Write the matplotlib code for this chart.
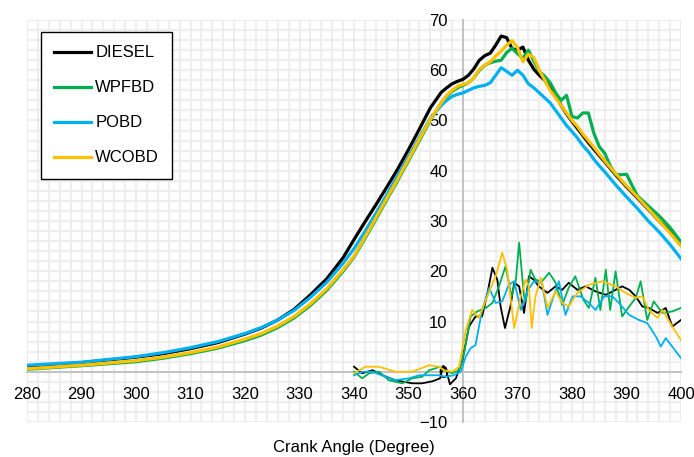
import matplotlib
matplotlib.use("Agg")
import matplotlib.pyplot as plt
import numpy as np
from matplotlib.ticker import MultipleLocator

plt.rcParams['font.family'] = ['Liberation Sans', 'DejaVu Sans']

names = ["DIESEL", "WPFBD", "POBD", "WCOBD"]
colors = ["#000000", "#00b050", "#00b0f0", "#ffc000"]

# cylinder pressure (bar) vs crank angle
p_angle = [280, 290, 300, 305, 310, 315, 320, 323, 326, 329, 332, 335, 338, 340, 342, 344,
           346, 348, 350, 352, 354, 356, 357, 358, 359, 360, 361, 362, 363, 364, 365, 366,
           367, 368, 369, 370, 371, 372, 373, 374, 375, 376, 377, 378, 379, 380, 381, 382,
           383, 384, 385, 386, 387, 388, 389, 390, 392, 394, 396, 398, 400]
p_diesel = [1.0, 1.8, 2.9, 3.6, 4.6, 5.8, 7.5, 8.7, 10.3, 12.4, 15.3, 18.5, 22.7, 26.3, 29.8, 33.2,
            36.7, 40.3, 44.2, 48.3, 52.5, 55.6, 56.5, 57.3, 57.8, 58.2, 59.0, 60.3, 62.0, 62.9, 63.4, 65.0,
            66.8, 66.5, 64.3, 64.0, 64.6, 62.0, 60.2, 59.0, 58.0, 56.5, 55.0, 53.0, 51.3, 49.8, 48.4, 47.0,
            45.6, 44.3, 43.0, 41.8, 40.5, 39.2, 38.0, 36.8, 34.6, 32.3, 30.0, 27.8, 25.3]
p_wpfbd = [0.5, 1.2, 2.0, 2.7, 3.6, 4.7, 6.2, 7.3, 8.8, 10.7, 13.2, 16.2, 20.0, 22.8, 26.5, 30.3,
           34.2, 38.0, 42.0, 46.0, 50.0, 53.5, 54.8, 55.8, 56.5, 57.0, 57.5, 58.5, 60.0, 61.0, 61.5, 61.8,
           62.0, 63.5, 64.4, 63.3, 62.4, 64.0, 61.8, 59.8, 58.8, 57.5, 55.5, 54.0, 55.0, 50.8, 50.5, 51.5,
           51.5, 47.5, 44.8, 43.5, 41.0, 39.3, 39.2, 39.3, 35.0, 33.0, 31.0, 28.7, 25.8]
p_pobd = [1.3, 1.9, 3.0, 3.8, 4.8, 6.0, 7.6, 8.8, 10.3, 12.2, 14.8, 17.8, 21.6, 24.5, 27.9, 31.5,
          35.2, 39.0, 42.8, 46.6, 50.4, 53.0, 54.0, 54.8, 55.2, 55.5, 56.0, 56.5, 56.8, 57.0, 57.5, 59.0,
          60.5, 59.8, 59.0, 60.0, 59.0, 57.3, 56.5, 55.5, 54.5, 53.5, 52.0, 50.5, 49.0, 47.8, 46.5, 45.0,
          43.8, 42.3, 41.0, 39.8, 38.5, 37.2, 36.0, 34.8, 32.5, 30.0, 27.8, 25.3, 22.5]
p_wcobd = [0.6, 1.3, 2.2, 2.9, 3.8, 4.9, 6.5, 7.6, 9.1, 11.0, 13.5, 16.5, 20.3, 23.0, 26.8, 30.6,
           34.5, 38.3, 42.3, 46.3, 50.2, 53.5, 55.0, 56.0, 56.8, 57.2, 57.5, 58.5, 60.2, 61.0, 61.7, 62.8,
           63.8, 65.0, 65.9, 64.5, 61.7, 63.2, 62.5, 60.0, 58.0, 56.0, 54.5, 53.0, 51.5, 50.0, 48.8, 47.3,
           46.0, 44.7, 43.3, 42.0, 40.7, 39.5, 38.2, 37.0, 34.8, 32.4, 30.0, 27.6, 25.0]

# heat release rate (J/deg) vs crank angle
h_diesel_x = [340, 341.5, 343.4, 345.2, 347.6, 350.7, 352.5, 354.4, 355.8, 356.4, 357.0, 357.6,
              358.7, 359.9, 361.1, 362.3, 363.5, 364.5, 365.4, 366.3, 366.9, 367.7, 368.7, 369.4,
              370.3, 371.2, 372.1, 373.0, 373.9, 375.5, 377.0, 378.2, 379.4, 381.0, 382.5, 384.3,
              386.2, 388.0, 389.2, 390.5, 391.7, 392.9, 394.1, 395.7, 397.2, 398.4, 400]
h_diesel = [1.0, -0.3, 0.3, -0.7, -1.7, -2.3, -2.3, -1.9, -1.3, 1.2, 0.0, -2.5,
            -1.3, 2.3, 9.0, 11.0, 11.0, 15.7, 20.7, 18.3, 13.0, 8.7, 13.0, 17.7,
            17.0, 11.7, 19.0, 18.3, 17.0, 15.7, 17.0, 16.3, 17.7, 16.3, 17.0, 16.0,
            15.3, 16.3, 17.0, 16.3, 15.0, 13.0, 12.7, 11.7, 12.7, 9.0, 10.3]
h_wpfbd_x = [340, 341.5, 342.8, 344.6, 346.4, 348.9, 350.7, 352.5, 353.8, 355.0, 355.6, 356.5,
             358.0, 359.3, 360.2, 361.4, 362.6, 364.2, 365.4, 366.6, 367.8, 368.9, 369.7, 370.3,
             371.2, 371.5, 372.4, 373.3, 374.5, 375.8, 377.0, 378.2, 379.4, 380.6, 382.1, 383.1,
             384.3, 385.2, 386.2, 387.0, 388.0, 389.2, 390.5, 391.7, 392.6, 393.8, 395.0, 396.6,
             398.4, 400]
h_wpfbd = [0.0, -1.3, -0.3, 0.0, -1.7, -2.3, -1.3, -1.0, 0.3, 0.7, 1.0, 0.3,
           -0.3, 0.3, 3.7, 11.0, 12.0, 12.7, 13.7, 17.0, 21.0, 15.0, 18.3, 25.7,
           15.0, 14.0, 20.3, 18.3, 18.0, 19.7, 17.7, 13.3, 16.7, 19.0, 14.3, 12.7,
           18.7, 12.3, 20.3, 12.3, 20.0, 11.0, 13.0, 14.7, 18.0, 10.3, 14.0, 11.7,
           12.0, 12.7]
h_pobd_x = [340, 341.5, 343.4, 345.8, 347.6, 350.1, 352.0, 353.8, 355.6, 356.8, 358.3, 359.6,
            360.5, 361.4, 362.3, 363.5, 364.8, 366.0, 367.2, 368.4, 369.4, 370.6, 371.8, 373.0,
            374.5, 375.5, 376.4, 377.6, 378.8, 380.1, 381.6, 383.1, 384.3, 385.9, 387.4, 388.6,
            390.5, 392.3, 393.8, 395.4, 396.3, 397.2, 400]
h_pobd = [-0.7, 0.0, 0.0, -1.0, -1.7, -1.3, -0.7, -0.7, -0.7, -1.0, -0.7, 0.0,
          3.0, 4.7, 5.3, 12.3, 16.7, 13.7, 14.0, 17.3, 18.0, 12.3, 16.0, 18.0,
          17.7, 11.3, 14.3, 18.0, 11.3, 15.0, 15.0, 13.7, 12.3, 15.0, 15.0, 13.7,
          11.3, 10.3, 9.7, 7.0, 5.0, 6.7, 2.7]
h_wcobd_x = [340, 342.1, 344.6, 347.6, 350.7, 353.8, 355.6, 356.5, 358.0, 359.3, 360.5, 361.7,
             362.9, 364.2, 366.0, 367.2, 368.1, 369.4, 370.6, 371.5, 372.1, 372.6, 373.3, 374.3,
             375.5, 377.0, 378.2, 379.4, 381.0, 383.1, 385.6, 388.0, 389.8, 391.7, 392.9, 394.1,
             395.7, 396.6, 398.4, 400]
h_wcobd = [-0.3, 1.0, 1.0, 0.0, 0.0, 1.3, 1.0, 0.3, 0.0, 1.0, 8.3, 12.3,
           10.7, 14.3, 19.0, 23.7, 20.3, 8.7, 15.0, 18.3, 17.0, 8.7, 15.0, 18.7,
           12.7, 16.0, 13.7, 13.0, 15.7, 17.3, 18.0, 17.0, 15.7, 14.7, 15.0, 12.3,
           10.7, 12.3, 9.0, 6.3]

fig = plt.figure(figsize=(6.94, 4.57), dpi=100)
ax = fig.add_axes([27 / 694, 1 - 422 / 457, 654 / 694, 402 / 457])

# light grid drawn as plain lines so tick labels stay on top of it
ax.vlines(np.arange(280, 401, 2), -10, 70, color='#eeeeee', lw=1.6, zorder=0.1)
ax.hlines(np.arange(-10, 71, 2), 280, 400, color='#eeeeee', lw=1.6, zorder=0.1)

pressures = [p_diesel, p_wpfbd, p_pobd, p_wcobd]
hrr = [(h_diesel_x, h_diesel), (h_wpfbd_x, h_wpfbd), (h_pobd_x, h_pobd), (h_wcobd_x, h_wcobd)]

for (hx, hy), c in zip(hrr, colors):
    ax.plot(hx, hy, color=c, lw=1.3, solid_joinstyle='round')
for p, c, n in zip(pressures, colors, names):
    ax.plot(p_angle, p, color=c, lw=2.3, label=n, solid_joinstyle='round')

ax.set_xlim(280, 400)
ax.set_ylim(-10, 70)
ax.xaxis.set_major_locator(MultipleLocator(10))
ax.yaxis.set_major_locator(MultipleLocator(10))
ax.set_axisbelow(True)

ax.spines['left'].set_position(('data', 360))
ax.spines['bottom'].set_position(('data', 0))
ax.spines['top'].set_visible(False)
ax.spines['right'].set_visible(False)
for s in ['left', 'bottom']:
    ax.spines[s].set_color('#bfbfbf')
    ax.spines[s].set_linewidth(1.3)
    ax.spines[s].set_zorder(0.2)

ax.tick_params(which='both', length=0)
ax.tick_params(axis='x', pad=11, labelsize=12)
ax.tick_params(axis='y', pad=11, labelsize=12)

ax.set_xlabel("Crank Angle (Degree)", fontsize=12)
ax.xaxis.set_label_coords(0.5, -0.045)

leg = ax.legend(loc='upper left', bbox_to_anchor=(0.0214, 0.970), fontsize=12,
                frameon=True, fancybox=False, edgecolor='black', framealpha=1,
                borderaxespad=0, borderpad=0.8, labelspacing=1.2,
                handlelength=2.2, handletextpad=0.25)
leg.get_frame().set_linewidth(1.0)

fig.savefig("out.png", dpi=100, facecolor='white')
